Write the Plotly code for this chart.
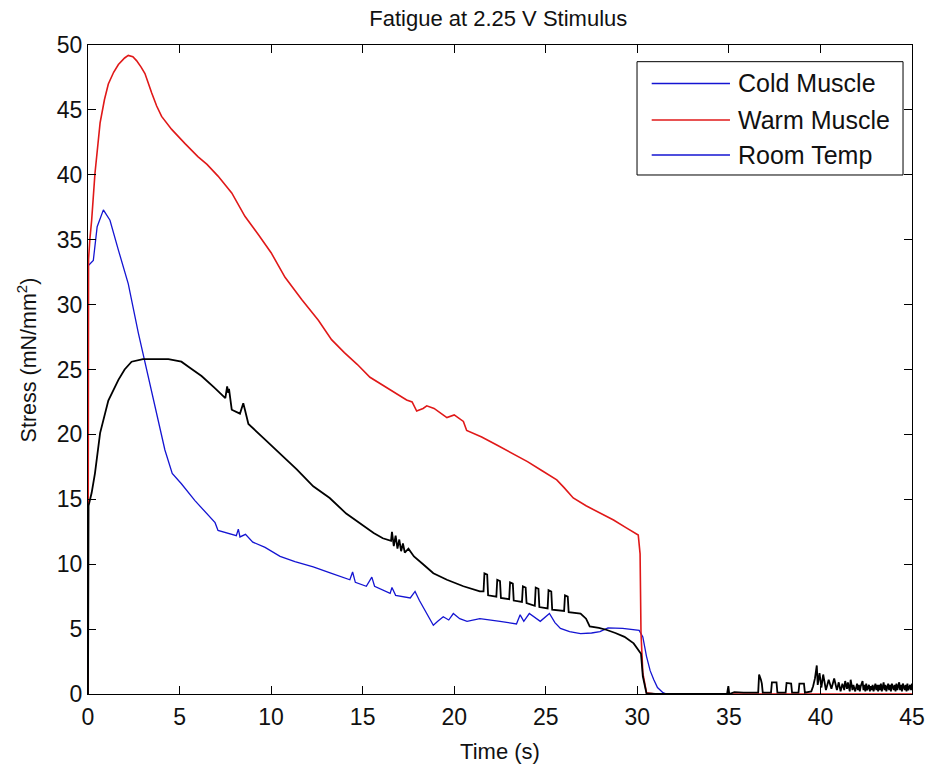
import plotly.graph_objects as go

# ---------------- data ----------------
cold_t = [0, 0.02, 0.29, 0.5, 0.84, 1.2, 1.66, 2.2, 2.75, 3.11, 3.48, 4.2, 4.6, 5.1, 5.84,
          6.5, 6.94, 7.1, 7.6, 8.1, 8.21, 8.3, 8.6, 9.0, 9.67, 10.49, 11.3, 12.3, 13.3, 14.3,
          14.45, 14.6, 15.2, 15.5, 15.65, 16.5, 16.6, 16.8, 17.6, 17.86, 18.1, 18.5, 18.86,
          19.1, 19.4, 19.7, 19.95, 20.3, 20.7, 21.4, 22.0, 22.5, 23.4, 23.6, 23.8, 24.1, 24.7,
          25.2, 25.5, 25.8, 26.3, 26.9, 27.5, 27.96, 28.4, 28.7, 29.2, 30.1, 30.3, 30.5, 30.7,
          30.9, 31.1, 31.4, 31.6]
cold_y = [0, 33.0, 33.4, 36.0, 37.3, 36.5, 34.2, 31.6, 27.8, 25.5, 23.2, 18.8, 17.0, 16.2, 14.9,
          13.9, 13.2, 12.6, 12.4, 12.2, 12.7, 12.1, 12.3, 11.7, 11.3, 10.6, 10.2, 9.8, 9.3, 8.8,
          9.4, 8.6, 8.3, 9.0, 8.3, 7.75, 8.2, 7.6, 7.4, 7.9, 7.2, 6.2, 5.3,
          5.6, 5.95, 5.7, 6.2, 5.8, 5.6, 5.8, 5.7, 5.6, 5.4, 6.1, 5.6, 6.2, 5.6,
          6.2, 5.5, 5.05, 4.8, 4.65, 4.7, 4.8, 5.1, 5.1, 5.05, 4.9, 4.4, 2.9, 1.8,
          1.1, 0.5, 0.1, 0.0]

warm_t = [0, 0.03, 0.1, 0.2, 0.38, 0.66, 0.9, 1.11, 1.4, 1.66, 2.0, 2.2, 2.45, 2.65, 2.9, 3.11,
          3.48, 3.75, 4.02, 4.57, 5.3, 6.0, 6.5, 7.1, 7.85, 8.57, 9.3, 10.0, 10.76, 11.67, 12.58,
          13.3, 14.0, 14.7, 15.4, 16.2, 16.9, 17.4, 17.7, 17.95, 18.3, 18.5, 18.9, 19.3, 19.6,
          20.0, 20.5, 20.68, 21.5, 22.3, 23.2, 24.0, 24.8, 25.6, 26.0, 26.5, 27.2, 28.0, 28.7,
          29.4, 30.05, 30.15, 30.2, 30.3, 30.5, 31.0, 45.0]
warm_y = [0, 33.5, 35.0, 36.5, 40.1, 44.0, 45.8, 47.0, 47.9, 48.5, 49.0, 49.2, 49.1, 48.8, 48.3, 47.8,
          46.3, 45.3, 44.5, 43.5, 42.4, 41.4, 40.8, 39.9, 38.6, 36.8, 35.4, 34.0, 32.1, 30.4, 28.8,
          27.3, 26.3, 25.4, 24.4, 23.7, 23.1, 22.65, 22.5, 21.8, 22.0, 22.2, 22.0, 21.6, 21.3,
          21.5, 21.0, 20.3, 19.8, 19.2, 18.5, 17.9, 17.2, 16.5, 15.9, 15.1, 14.5, 13.9, 13.4,
          12.8, 12.25, 10.8, 4.7, 1.6, 0.1, 0.0, 0.0]

room_t = [0, 0.03, 0.2, 0.38, 0.66, 1.11, 1.66, 2.0, 2.38, 3.0, 4.39, 5.1, 5.6, 6.2, 6.9, 7.5,
          7.6, 7.66, 7.7, 7.85, 8.3, 8.48, 8.57, 8.76, 9.6, 10.5, 11.4, 12.3, 13.2, 14.1, 14.8,
          15.6, 16.1, 16.55, 16.6, 16.7, 16.8, 16.9, 17.0, 17.1, 17.2, 17.3, 17.5, 17.8, 18.3,
          18.86, 19.6, 20.5, 21.4, 21.6, 21.65, 21.8, 21.85, 22.3, 22.35, 22.5, 22.55, 23.0,
          23.05, 23.2, 23.25, 23.7, 23.75, 23.9, 23.95, 24.4, 24.45, 24.6, 24.65, 25.1, 25.15,
          25.3, 25.35, 26.0, 26.05, 26.2, 26.25, 26.9, 27.2, 27.4, 27.9, 28.3, 28.8, 29.3, 29.8,
          30.2, 30.3, 30.5, 31.0, 34.9, 34.97, 35.02, 35.3, 35.8, 36.6, 36.65, 36.75, 36.8,
          36.85, 37.3, 37.35, 37.6, 37.65, 38.1, 38.15, 38.4, 38.45, 38.8, 38.85, 39.1, 39.15,
          39.5, 39.6, 39.7, 39.8, 39.85, 39.95, 40.05, 40.15, 40.3, 40.45, 40.6, 40.75, 40.9,
          41.0, 41.1, 41.2, 41.3, 41.35, 41.45, 41.5, 41.6, 41.65, 41.75, 41.8, 41.9, 42.0,
          42.05, 42.1, 42.15, 42.2, 42.3, 42.35, 42.4, 42.45, 42.5, 42.55, 42.65, 42.7, 42.75,
          42.8, 42.85, 42.9, 43.0, 43.05, 43.1, 43.15, 43.2, 43.25, 43.3, 43.35, 43.45, 43.5,
          43.55, 43.6, 43.7, 43.75, 43.8, 43.85, 43.9, 44.0, 44.05, 44.1, 44.15, 44.2, 44.3,
          44.35, 44.4, 44.45, 44.5, 44.6, 44.65, 44.7, 44.75, 44.8, 44.9, 44.95, 45.0]
room_y = [0, 14.5, 15.5, 17.0, 20.1, 22.6, 24.2, 25.0, 25.6, 25.8, 25.8, 25.6, 25.1, 24.5, 23.6, 22.8,
          23.7, 23.2, 23.5, 21.9, 21.6, 22.4, 21.9, 20.8, 19.7, 18.5, 17.3, 16.0, 15.1, 13.9, 13.2,
          12.4, 12.0, 11.8, 12.5, 11.4, 12.2, 11.2, 11.9, 11.0, 11.6, 10.9, 11.2, 10.6, 10.0,
          9.3, 8.8, 8.3, 7.9, 7.9, 9.3, 9.2, 7.6, 7.5, 8.8, 8.7, 7.4, 7.3,
          8.6, 8.5, 7.2, 7.1, 8.3, 8.2, 7.0, 6.8, 8.2, 8.1, 6.7, 6.6, 8.0,
          7.9, 6.5, 6.4, 7.6, 7.5, 6.3, 6.2, 5.8, 5.2, 5.1, 4.95, 4.7, 4.4, 3.9,
          3.1, 1.35, 0.05, 0.0, 0.0, 0.6, 0.0, 0.15, 0.1, 0.1, 1.5, 1.1, 0.8,
          0.1, 0.1, 0.9, 0.9, 0.1, 0.1, 0.85, 0.8, 0.1, 0.1, 0.8, 0.8, 0.1,
          0.2, 0.6, 1.2, 2.2, 0.7, 1.6, 0.5, 1.5, 0.3, 1.1, 0.4, 1.2, 0.3,
          0.9, 0.2, 0.8, 0.3, 1.0, 0.4, 0.9, 0.2, 1.1, 0.3, 0.7, 0.2, 0.8,
          0.3, 0.7, 0.2, 0.6, 1.0, 0.3, 0.7, 0.2, 0.8, 0.3, 0.7, 0.2, 0.6,
          0.3, 0.7, 0.2, 0.8, 0.3, 0.7, 0.2, 0.7, 0.3, 0.8, 0.2, 0.9, 0.3,
          0.7, 0.2, 0.8, 0.3, 0.7, 0.2, 0.8, 0.3, 0.7, 0.2, 0.8, 0.3, 0.9,
          0.3, 0.7, 0.2, 0.8, 0.3, 0.7, 0.2, 0.8, 0.3, 0.7, 0.3, 0.8]

legend_labels = ["Cold Muscle", "Warm Muscle", "Room Temp"]
legend_colors = ["#1414d2", "#e01818", "#1414d2"]

x_ticks = [0, 5, 10, 15, 20, 25, 30, 35, 40, 45]
y_ticks = [0, 5, 10, 15, 20, 25, 30, 35, 40, 45, 50]

title_text = "Fatigue at 2.25 V Stimulus"
x_title = "Time (s)"
y_title = "Stress (mN/mm<sup>2</sup>)"

# ---------------- figure ----------------
FONT = "Arial, Liberation Sans, Helvetica, sans-serif"
fig = go.Figure()
fig.add_trace(go.Scatter(x=cold_t, y=cold_y, mode="lines", name=legend_labels[0],
                         line=dict(color="#1414d2", width=1.3), showlegend=False))
fig.add_trace(go.Scatter(x=warm_t, y=warm_y, mode="lines", name=legend_labels[1],
                         line=dict(color="#e01818", width=1.6), showlegend=False))
fig.add_trace(go.Scatter(x=room_t, y=room_y, mode="lines", name=legend_labels[2],
                         line=dict(color="#000000", width=1.8), showlegend=False))

# manual MATLAB-style legend (long line samples)
box = dict(x0=0.6663, x1=0.9891, y0=0.7997, y1=0.9743)
fig.add_shape(type="rect", xref="paper", yref="paper", line=dict(color="black", width=1),
              fillcolor="white", layer="above", **box)
row_y = [0.9407, 0.8844, 0.8305]
for lab, col, ry in zip(legend_labels, legend_colors, row_y):
    fig.add_shape(type="line", xref="paper", yref="paper", x0=0.6841, x1=0.7791, y0=ry, y1=ry,
                  line=dict(color=col, width=1.3), layer="above")
    fig.add_annotation(xref="paper", yref="paper", x=0.7864, y=ry, text=lab, showarrow=False,
                       xanchor="left", yanchor="middle", font=dict(family=FONT, size=25, color="#111"))

# y-axis title (placed like MATLAB's ylabel)
fig.add_annotation(xref="paper", yref="paper", x=-0.074, y=0.514, text=y_title, textangle=-90,
                   showarrow=False, xanchor="center", yanchor="middle",
                   font=dict(family=FONT, size=21.5, color="#111"))

axis_common = dict(showline=True, linecolor="black", linewidth=1, mirror="ticks",
                   ticks="inside", ticklen=8, tickcolor="black", showgrid=False, zeroline=False,
                   automargin=False,
                   tickfont=dict(family=FONT, size=23, color="#111"))
fig.update_xaxes(range=[0, 45], tickvals=x_ticks, ticklabelstandoff=2,
                 title=dict(text=x_title, font=dict(family=FONT, size=22, color="#111"), standoff=16),
                 **axis_common)
fig.update_yaxes(range=[0, 50], tickvals=y_ticks, **axis_common)

fig.update_layout(
    width=927, height=764,
    margin=dict(l=88, r=15, t=45, b=70, autoexpand=False),
    paper_bgcolor="white", plot_bgcolor="white",
    title=dict(text=title_text, x=0.5375, xanchor="center", y=0.976, yanchor="middle",
               font=dict(family=FONT, size=22, color="#111")),
    showlegend=False,
)

fig.write_html("out.html", config={"displayModeBar": False},
               post_script="document.body.style.margin='0';document.body.style.overflow='hidden';")
